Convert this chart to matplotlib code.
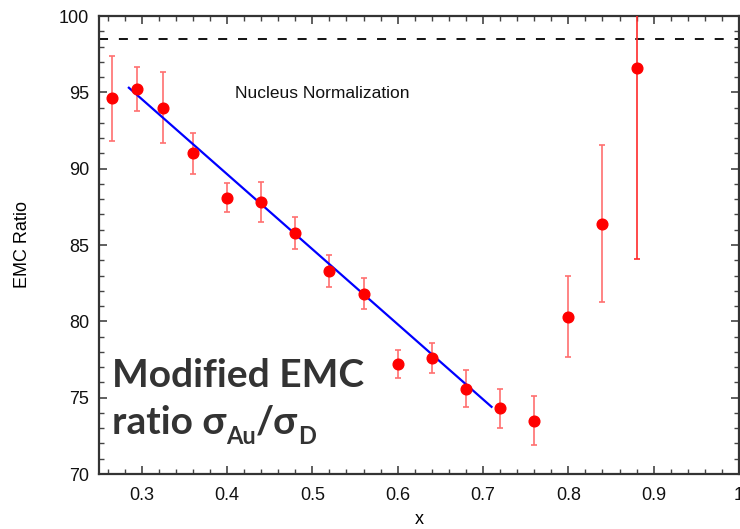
import matplotlib
matplotlib.use('Agg')
import matplotlib.pyplot as plt
from matplotlib.ticker import MultipleLocator

# data
x_vals = [0.265, 0.295, 0.325, 0.36, 0.40, 0.44, 0.48, 0.52, 0.56,
          0.60, 0.64, 0.68, 0.72, 0.76, 0.80, 0.84, 0.88]
ratio = [94.6, 95.2, 94.0, 91.0, 88.1, 87.8, 85.8, 83.3, 81.8,
         77.2, 77.6, 75.6, 74.3, 73.5, 80.3, 86.4, 96.6]
ratio_err = [2.8, 1.45, 2.3, 1.33, 0.95, 1.3, 1.05, 1.04, 1.02,
             0.92, 1.0, 1.18, 1.26, 1.62, 2.66, 5.15, 12.5]
fit_x = [0.285, 0.71]
fit_y = [95.3, 74.4]
norm_level = 98.5
x_ticks = [0.3, 0.4, 0.5, 0.6, 0.7, 0.8, 0.9, 1.0]
x_labels = ['0.3', '0.4', '0.5', '0.6', '0.7', '0.8', '0.9', '1']

plt.rcParams['font.family'] = ['Liberation Sans', 'DejaVu Sans']

fig = plt.figure(figsize=(7.4, 5.29), dpi=100)
ax = fig.add_axes([99 / 740, 55 / 529, 640 / 740, 458 / 529])

ax.axhline(norm_level, color='black', lw=1.3, ls=(0, (5, 6)))

ax.plot(fit_x, fit_y, color='#0000ff', lw=1.6, zorder=4)

ax.errorbar(x_vals[:-1], ratio[:-1], yerr=ratio_err[:-1], fmt='none',
            ecolor='#ff7070', elinewidth=1.2, capsize=2.3, capthick=1.2, zorder=3)
ax.errorbar(x_vals[-1:], ratio[-1:], yerr=ratio_err[-1:], fmt='none',
            ecolor='#ff2a2a', elinewidth=1.2, capsize=2.3, capthick=1.2, zorder=3)
ax.plot(x_vals, ratio, 'o', color='#ff0000', ms=7.7, mec='#ff0000', zorder=5)

ax.set_xlim(0.25, 1.0)
ax.set_ylim(70, 100)
ax.set_xticks(x_ticks)
ax.set_xticklabels(x_labels)
ax.set_yticks(range(70, 101, 5))
ax.xaxis.set_minor_locator(MultipleLocator(0.02))
ax.yaxis.set_minor_locator(MultipleLocator(1))
ax.tick_params(which='both', direction='in', top=True, right=True,
               colors='#444444', labelcolor='#111111', labelsize=13)
ax.tick_params(which='major', length=6, width=1.2)
ax.tick_params(which='minor', length=3.5, width=1.0)
ax.tick_params(axis='x', pad=9)
ax.tick_params(axis='y', pad=7)
for s in ax.spines.values():
    s.set_linewidth(1.6)
    s.set_color('#333333')

ax.set_ylabel('EMC Ratio', fontsize=13)
ax.set_xlabel('x', fontsize=13)
ax.yaxis.set_label_coords(-0.106, 0.5)
ax.xaxis.set_label_coords(0.5, -0.08)

ax.text(0.512, 94.95, 'Nucleus Normalization', fontsize=12.5,
        ha='center', va='center', color='#111111')

# big annotation with subscripts
big = dict(family=['Lato', 'DejaVu Sans'], weight='bold', color='#333333')
ax.text(0.2652, 75.7, 'Modified EMC', fontsize=28, va='baseline', **big)
t1 = ax.text(0.2652, 72.65, 'ratio σ', fontsize=28, va='baseline', **big)
t2 = ax.annotate('Au', xy=(1, 0), xycoords=t1, xytext=(0, -6),
                 textcoords='offset points', fontsize=17, va='bottom', **big)
t3 = ax.annotate('/σ', xy=(1, 0), xycoords=(t2, t1), va='bottom',
                 fontsize=28, **big)
ax.annotate('D', xy=(1, 0), xycoords=t3, xytext=(0, -6),
            textcoords='offset points', fontsize=17, va='bottom', **big)

fig.savefig('out.png', dpi=100)
